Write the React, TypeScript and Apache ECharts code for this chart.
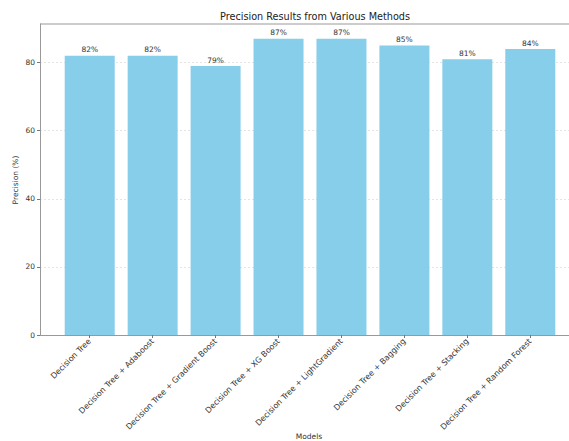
import React, { useEffect, useRef } from "react";
import * as echarts from "echarts";

const categories = [
  "Decision Tree",
  "Decision Tree + Adaboost",
  "Decision Tree + Gradient Boost",
  "Decision Tree + XG Boost",
  "Decision Tree + LightGradient",
  "Decision Tree + Bagging",
  "Decision Tree + Stacking",
  "Decision Tree + Random Forest",
];
const precision = [82, 82, 79, 87, 87, 85, 81, 84];
const yTicks = [0, 20, 40, 60, 80];

const FONT = "DejaVu Sans";

export default function App() {
  const ref = useRef<HTMLDivElement>(null);
  useEffect(() => {
    if (!ref.current) return;
    const chart = echarts.init(ref.current, null, { renderer: "svg" });
    const n = categories.length;
    chart.setOption({
      animation: false,
      title: {
        text: "Precision Results from Various Methods",
        left: 310,
        textAlign: "center",
        top: 6,
        textStyle: { fontFamily: FONT, fontSize: 9.7, fontWeight: "normal", color: "#222" },
      },
      grid: { left: 40, top: 24, width: 540, height: 311, outerBoundsMode: "none", containLabel: false },
      xAxis: {
        type: "value",
        min: -0.39 - 0.4,
        max: n - 1 + 0.4 + 0.39,
        splitLine: { show: false },
        axisLine: { show: true, onZero: false, lineStyle: { color: "#999", width: 1 } },
        axisTick: {
          show: true,
          length: 3,
          customValues: categories.map((_, i) => i),
          lineStyle: { color: "#777" },
        },
        axisLabel: {
          customValues: categories.map((_, i) => i),
          rotate: 45,
          fontFamily: FONT,
          fontSize: 8,
          color: "#333",
          margin: 5,
          formatter: (v: number) => categories[Math.round(v)] ?? "",
        },
      },
      yAxis: {
        type: "value",
        min: 0,
        max: 91.35,
        interval: 20,
        axisLine: { show: true, onZero: false, lineStyle: { color: "#999", width: 1 } },
        axisTick: { show: true, length: 3, customValues: yTicks, lineStyle: { color: "#777" } },
        axisLabel: {
          customValues: yTicks,
          fontFamily: FONT,
          fontSize: 7.5,
          color: "#333",
          margin: 5,
        },
        splitLine: {
          show: true,
          lineStyle: { color: "#ddd", type: [2, 2], width: 0.8 },
        },
      },
      series: [
        {
          type: "bar",
          data: precision.map((v, i) => [i, v]),
          barWidth: 50,
          itemStyle: { color: "#87CEEB" },
          label: {
            show: true,
            position: "top",
            distance: 2,
            fontFamily: FONT,
            fontSize: 7.5,
            color: "#333",
            formatter: (p: any) => `${p.value[1]}%`,
          },
        },
      ],
      graphic: [
        {
          type: "line",
          shape: { x1: 40, y1: 24, x2: 580, y2: 24 },
          style: { stroke: "#999", lineWidth: 1 },
        },
        {
          type: "text",
          x: 309,
          y: 436,
          style: {
            text: "Models",
            fontFamily: FONT,
            fontSize: 7.5,
            fill: "#333",
            align: "center",
            verticalAlign: "middle",
          },
        },
        {
          type: "text",
          x: 15,
          y: 180,
          rotation: Math.PI / 2,
          style: {
            text: "Precision (%)",
            fontFamily: FONT,
            fontSize: 7.5,
            fill: "#333",
            align: "center",
            verticalAlign: "middle",
          },
        },
      ],
    });
    return () => chart.dispose();
  }, []);
  return (
    <div
      ref={ref}
      style={{ position: "absolute", left: 0, top: 0, width: 569, height: 441, overflow: "hidden" }}
    />
  );
}
